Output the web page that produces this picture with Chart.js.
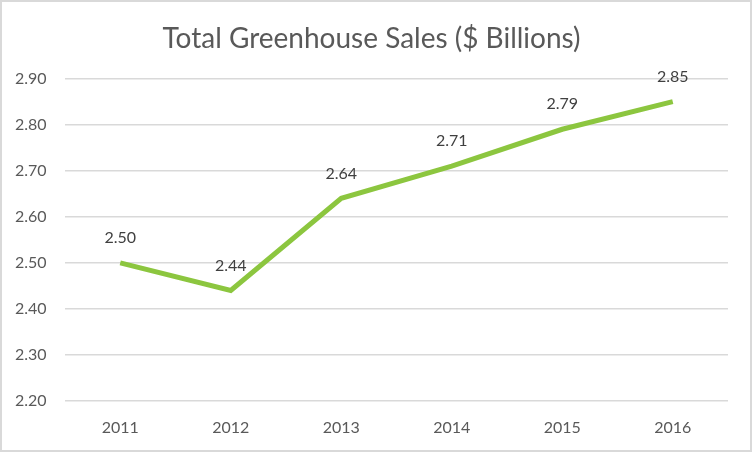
<!DOCTYPE html>
<html>
<head>
<meta charset="utf-8">
<script src="https://cdn.jsdelivr.net/npm/chart.js@4.4.1/dist/chart.umd.min.js"></script>
<style>
  html, body { margin: 0; padding: 0; background: #fff; }
  #wrap { width: 752px; height: 452px; box-sizing: border-box; border: 2px solid #d9d9d9; }
  canvas { display: block; }
</style>
</head>
<body>
<div id="wrap"><canvas id="chart" width="748" height="448"></canvas></div>
<script>
const years = ['2011', '2012', '2013', '2014', '2015', '2016'];
const sales = [2.50, 2.44, 2.64, 2.71, 2.79, 2.85];
const yMin = 2.2;
const yMax = 2.9;
const yStep = 0.1;

const FONT = 'Lato, "Open Sans", sans-serif';

// small inline plugin to print the value above each point
const valueLabels = {
  id: 'valueLabels',
  afterDatasetsDraw(chart) {
    const ctx = chart.ctx;
    const meta = chart.getDatasetMeta(0);
    ctx.save();
    ctx.font = '16px ' + FONT;
    ctx.fillStyle = '#404040';
    ctx.textAlign = 'center';
    ctx.textBaseline = 'middle';
    meta.data.forEach((pt, i) => {
      ctx.fillText(sales[i].toFixed(2), pt.x, pt.y - 25);
    });
    ctx.restore();
  }
};

new Chart(document.getElementById('chart'), {
  type: 'line',
  data: {
    labels: years,
    datasets: [{
      label: 'Sales',
      data: sales,
      borderColor: '#8cc63f',
      borderWidth: 5,
      pointRadius: 0,
      tension: 0,
      fill: false
    }]
  },
  options: {
    responsive: false,
    animation: false,
    layout: { padding: { left: 13, right: 22, top: 0, bottom: 13 } },
    plugins: {
      legend: { display: false },
      tooltip: { enabled: false },
      title: {
        display: true,
        text: 'Total Greenhouse Sales ($ Billions)',
        color: '#595959',
        font: { family: FONT, size: 28, weight: 'normal' },
        padding: { top: 20, bottom: 23 }
      }
    },
    scales: {
      x: {
        offset: true,
        grid: { display: false, drawTicks: false },
        border: { display: false },
        ticks: { color: '#595959', font: { family: FONT, size: 16 }, padding: 17 },
        afterFit(scale) { scale.height = 36; }
      },
      y: {
        min: yMin,
        max: yMax,
        grid: { color: '#d9d9d9', lineWidth: 1.5, drawTicks: false },
        border: { display: false },
        ticks: {
          stepSize: yStep,
          color: '#595959',
          font: { family: FONT, size: 16 },
          padding: 0,
          crossAlign: 'far',
          callback: v => v.toFixed(2)
        },
        afterFit(scale) { scale.width = 50; }
      }
    }
  },
  plugins: [valueLabels]
});
</script>
</body>
</html>
